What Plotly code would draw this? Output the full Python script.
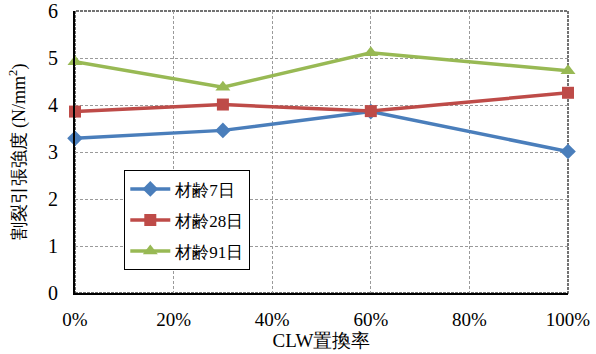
import plotly.graph_objects as go

# CLW replacement ratio and splitting tensile strength by curing age
replacement = [0, 0.3, 0.6, 1.0]
age7 = [3.29, 3.46, 3.86, 3.01]
age28 = [3.86, 4.01, 3.87, 4.26]
age91 = [4.92, 4.38, 5.11, 4.73]

series = [
    ("材齢7日", age7, "#4A7EBB", "diamond", 12),
    ("材齢28日", age28, "#BE4B48", "square", 12),
    ("材齢91日", age91, "#98B954", "triangle-up", 13),
]

SERIF = "Liberation Serif"

fig = go.Figure()
for name, vals, color, symbol, size in series:
    fig.add_trace(go.Scatter(
        x=replacement, y=vals, name=name, mode="lines+markers",
        legendgroup=name,
        line=dict(color=color, width=3.5),
        marker=dict(symbol=symbol, size=size, color=color),
        cliponaxis=False,
    ))

# box around the plotting area (top/right edges in dark grey)
fig.add_shape(type="rect", xref="paper", yref="paper", x0=0, y0=0, x1=1, y1=1,
              line=dict(color="#444444", width=1.5, dash="3px,1px"), layer="below")

grid = dict(showgrid=True, gridcolor="#9a9a9a", griddash="3px,2px", gridwidth=1)

fig.update_layout(
    width=596, height=354,
    margin=dict(l=75, r=28, t=11, b=61, autoexpand=False),
    paper_bgcolor="white", plot_bgcolor="white",
    font=dict(family=SERIF, size=16, color="black"),
    showlegend=True,
    legend=dict(
        x=0.1, y=0.435, xanchor="left", yanchor="top",
        bgcolor="white", bordercolor="black", borderwidth=1,
        font=dict(family=SERIF, size=17), tracegroupgap=6,
        itemwidth=40,
    ),
    xaxis=dict(
        range=[0, 1], tickvals=[0, 0.2, 0.4, 0.6, 0.8, 1.0],
        ticktext=["0%", "20%", "40%", "60%", "80%", "100%"],
        showline=True, linecolor="black", linewidth=2, zeroline=False,
        automargin=False,
        ticks="", tickfont=dict(family=SERIF, size=19), ticklabelstandoff=8, **grid,
        title=dict(text="CLW置換率", font=dict(family=SERIF, size=19), standoff=5),
    ),
    yaxis=dict(
        range=[0, 6], tickvals=[0, 1, 2, 3, 4, 5, 6],
        showline=True, linecolor="black", linewidth=2, zeroline=False,
        automargin=False,
        ticks="", tickfont=dict(family=SERIF, size=20), ticklabelstandoff=11, **grid,
        title=dict(text="割裂引張強度 (N/mm<sup>2</sup>)", font=dict(family=SERIF, size=18),
                   standoff=18),
    ),
)

fig.write_html("out.html")
